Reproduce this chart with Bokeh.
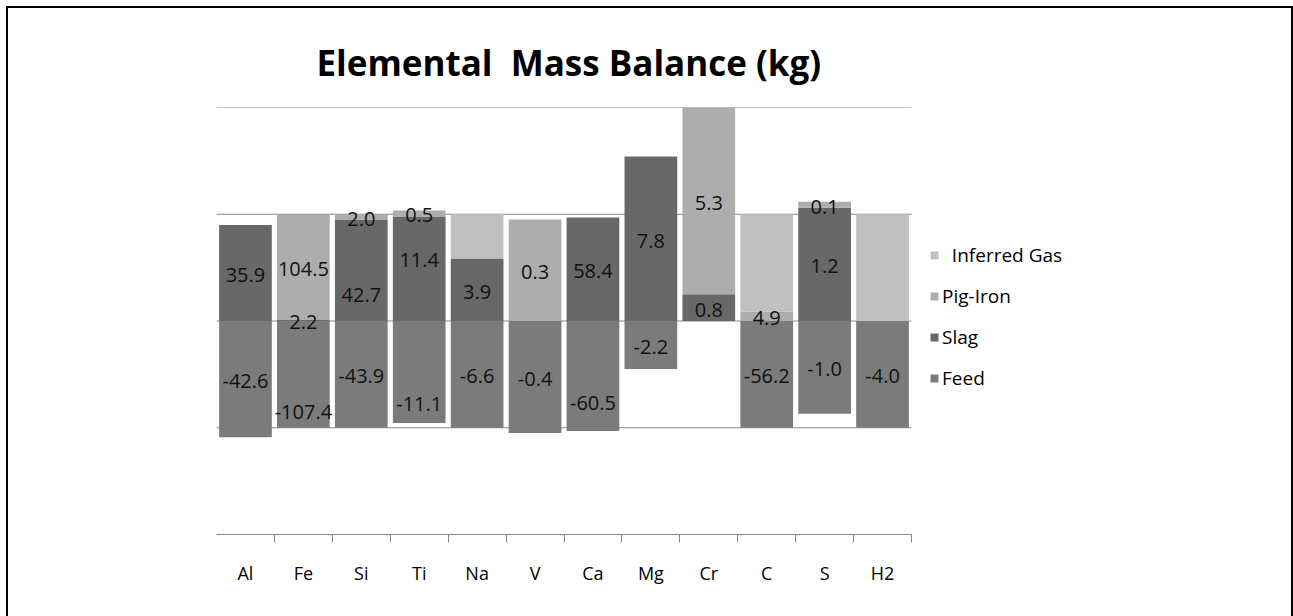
import numpy as np
from bokeh.plotting import figure
from bokeh.models import FixedTicker, Legend, LegendItem, ColumnDataSource
from bokeh.core.properties import value
from bokeh.embed import file_html
from bokeh.resources import INLINE

# ---- data -------------------------------------------------------------
categories = ["Al", "Fe", "Si", "Ti", "Na", "V", "Ca", "Mg", "Cr", "C", "S", "H2"]
# plotted (normalised) heights
feed_h = [-1.09, -1.00, -1.00, -0.955, -1.00, -1.05, -1.03, -0.45, 0.0, -1.00, -0.87, -1.00]
slag_h = [0.90, 0.015, 0.95, 0.98, 0.585, 0.0, 0.97, 1.54, 0.25, 0.0, 1.06, 0.0]
pig_h = [0.0, 0.98, 0.047, 0.056, 0.0, 0.95, 0.0, 0.0, 1.75, 0.09, 0.056, 0.0]
gas_h = [0.0, 0.0, 0.0, 0.0, 0.415, 0.0, 0.0, 0.0, 0.0, 0.91, 0.0, 1.0]
# data labels (kg)
feed_kg = [-42.6, -107.4, -43.9, -11.1, -6.6, -0.4, -60.5, -2.2, None, -56.2, -1.0, -4.0]
slag_kg = [35.9, 2.2, 42.7, 11.4, 3.9, None, 58.4, 7.8, 0.8, None, 1.2, None]
pig_kg = [None, 104.5, 2.0, 0.5, None, 0.3, None, None, 5.3, 4.9, 0.1, None]
gridlines = [-1, 0, 1, 2]

# label nudges in screen px (down), as placed in the original
feed_nudge = [0, 36, 0, 30, 0, 0, 25, 0, 0, 0, 0, 0]
slag_nudge = [0, 0, 23, -11, 0, 0, 0, 0, 0, 0, 0, 0]
pig_nudge = [0] * 12

C_GAS, C_PIG, C_SLAG, C_FEED = "#c0c0c0", "#adadad", "#686868", "#7b7b7b"
GRID = "#868686"
FONT = "Open Sans"

# ---- layout -----------------------------------------------------------
W_FIG, H_FIG = 1283, 608
LEFT, RIGHT, TOP, BOTTOM = 208, 10, 99, 82
PLOT_W = 695                       # width used by the 12 categories
FRAME_W = W_FIG - LEFT - RIGHT
N = len(categories)
x_end = N * FRAME_W / PLOT_W       # extra room on the right holds the legend

x = np.arange(N) + 0.5
feed = np.array(feed_h)
slag = np.array(slag_h)
pig = np.array(pig_h)
gas = np.array(gas_h)

p = figure(width=W_FIG, height=H_FIG, x_range=(0, x_end), y_range=(-2, 2),
           output_backend="svg", toolbar_location=None,
           min_border_left=LEFT, min_border_right=RIGHT,
           min_border_top=TOP, min_border_bottom=BOTTOM)
p.styles = {"outline": "2px solid black", "margin-left": "8px", "margin-top": "8px"}
p.outline_line_color = None
p.background_fill_color = "white"
p.border_fill_color = "white"

p.title.text = "Elemental\u00a0 Mass Balance (kg)"
p.title.align = "left"
p.title.offset = 100
p.title.text_font = FONT
p.title.text_font_size = "35px"
p.title.text_font_style = "bold"
p.title.text_color = "black"
p.title.standoff = 43

p.yaxis.visible = False
p.ygrid.visible = False
p.xgrid.visible = False

# horizontal gridlines over the category area only
p.segment(x0=0, x1=N, y0=gridlines, y1=gridlines, line_color=GRID,
          line_width=1, level="underlay")

p.xaxis.bounds = (0, N)
p.xaxis.ticker = FixedTicker(ticks=list(x), minor_ticks=list(range(1, N + 1)))
p.xaxis.major_label_overrides = {float(xi): c for xi, c in zip(x, categories)}
p.xaxis.axis_line_color = GRID
p.xaxis.major_tick_out = 0
p.xaxis.major_tick_in = 0
p.xaxis.minor_tick_out = 8
p.xaxis.minor_tick_in = 0
p.xaxis.minor_tick_line_color = GRID
p.xaxis.major_label_text_font = FONT
p.xaxis.major_label_text_font_size = "18px"
p.xaxis.major_label_text_color = "black"
p.xaxis.major_label_standoff = 18

W = 0.91
r_feed = p.vbar(x=x, width=W, bottom=feed, top=0, fill_color=C_FEED, line_color=None)
r_slag = p.vbar(x=x, width=W, bottom=0, top=slag, fill_color=C_SLAG, line_color=None)
r_pig = p.vbar(x=x, width=W, bottom=slag, top=slag + pig, fill_color=C_PIG, line_color=None)
r_gas = p.vbar(x=x, width=W, bottom=slag + pig, top=slag + pig + gas, fill_color=C_GAS, line_color=None)

# data labels centred in their segments
lx, ly, lt, lo = [], [], [], []
segs = [
    (feed_kg, feed / 2, feed_nudge),
    (slag_kg, slag / 2, slag_nudge),
    (pig_kg, slag + pig / 2, pig_nudge),
]
for vals, centres, nudges in segs:
    for i, v in enumerate(vals):
        if v is None:
            continue
        lx.append(x[i])
        ly.append(centres[i])
        lt.append(f"{v:.1f}")
        lo.append(2 + nudges[i])
src = ColumnDataSource(dict(x=lx, y=ly, t=lt, o=lo))
p.text(x="x", y="y", text="t", y_offset="o", source=src,
       text_align="center", text_baseline="middle",
       text_font=value(FONT), text_font_size="20px", text_color="#111111")

legend = Legend(items=[
    LegendItem(label="\u00a0\u00a0Inferred Gas", renderers=[r_gas]),
    LegendItem(label="Pig-Iron", renderers=[r_pig]),
    LegendItem(label="Slag", renderers=[r_slag]),
    LegendItem(label="Feed", renderers=[r_feed]),
], location=(713, 143))
legend.glyph_width = 10
legend.glyph_height = 10
legend.label_standoff = 3
legend.spacing = 15
legend.padding = 0
legend.margin = 0
legend.border_line_color = None
legend.background_fill_alpha = 0
legend.label_text_font = FONT
legend.label_text_font_size = "19px"
legend.label_text_color = "black"
p.add_layout(legend)

open("out.html", "w").write(file_html(p, INLINE))
